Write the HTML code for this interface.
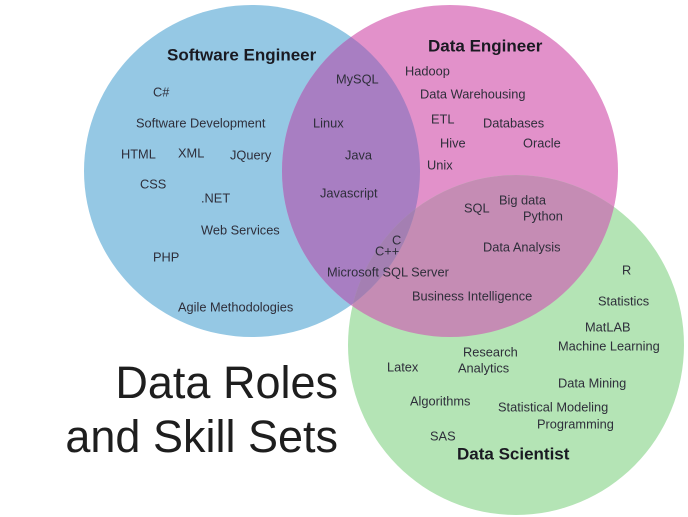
<!DOCTYPE html>
<html><head><meta charset="utf-8"><style>
html,body{margin:0;padding:0;background:#fff;}
svg{display:block;}
text{font-family:"Liberation Sans",sans-serif;fill:#2e2e3a;font-size:12.8px;}
.b{font-weight:bold;font-size:17px;fill:#1a1a22;}
.t{font-size:45px;fill:#1e1e1e;}
</style></head><body>
<svg width="688" height="517" viewBox="0 0 688 517" xmlns="http://www.w3.org/2000/svg">
<defs>
<clipPath id="cb"><ellipse cx="252" cy="171" rx="168" ry="166"/></clipPath>
<clipPath id="cp"><ellipse cx="450" cy="171" rx="168" ry="166"/></clipPath>
</defs>
<ellipse cx="252" cy="171" rx="168" ry="166" fill="#95c8e4"/>
<ellipse cx="450" cy="171" rx="168" ry="166" fill="#e291ca"/>
<ellipse cx="516" cy="345" rx="168" ry="170" fill="#b4e4b5"/>
<ellipse cx="450" cy="171" rx="168" ry="166" fill="#a87ec2" clip-path="url(#cb)"/>
<g clip-path="url(#cp)"><ellipse cx="516" cy="345" rx="168" ry="170" fill="#c58cb4"/></g>
<g clip-path="url(#cb)"><ellipse cx="516" cy="345" rx="168" ry="170" fill="#a4a7c0"/><g clip-path="url(#cp)"><ellipse cx="516" cy="345" rx="168" ry="170" fill="#a47fb2"/></g></g>

<g dominant-baseline="middle">
<text class="b" x="167" y="56">Software Engineer</text>
<text class="b" x="428" y="47">Data Engineer</text>
<text x="153" y="93">C#</text>
<text x="136" y="124">Software Development</text>
<text x="121" y="155">HTML</text>
<text x="178" y="154">XML</text>
<text x="230" y="156">JQuery</text>
<text x="140" y="185">CSS</text>
<text x="201" y="199">.NET</text>
<text x="201" y="231">Web Services</text>
<text x="153" y="258">PHP</text>
<text x="178" y="308">Agile Methodologies</text>
<text x="336" y="80">MySQL</text>
<text x="313" y="124">Linux</text>
<text x="345" y="156">Java</text>
<text x="320" y="194">Javascript</text>
<text x="392" y="241">C</text>
<text x="375" y="252">C++</text>
<text x="327" y="273">Microsoft SQL Server</text>
<text x="412" y="297">Business Intelligence</text>
<text x="405" y="72">Hadoop</text>
<text x="420" y="95">Data Warehousing</text>
<text x="431" y="120">ETL</text>
<text x="483" y="124">Databases</text>
<text x="440" y="144">Hive</text>
<text x="523" y="144">Oracle</text>
<text x="427" y="166">Unix</text>
<text x="464" y="209">SQL</text>
<text x="499" y="201">Big data</text>
<text x="523" y="217">Python</text>
<text x="483" y="248">Data Analysis</text>
<text x="622" y="271">R</text>
<text x="598" y="302">Statistics</text>
<text x="585" y="328">MatLAB</text>
<text x="558" y="347">Machine Learning</text>
<text x="463" y="353">Research</text>
<text x="387" y="368">Latex</text>
<text x="458" y="369">Analytics</text>
<text x="558" y="384">Data Mining</text>
<text x="410" y="402">Algorithms</text>
<text x="498" y="408">Statistical Modeling</text>
<text x="537" y="425">Programming</text>
<text x="430" y="437">SAS</text>
<text class="b" x="457" y="455">Data Scientist</text>
</g>
<text class="t" x="338" y="398" text-anchor="end">Data Roles</text>
<text class="t" x="338" y="452" text-anchor="end">and Skill Sets</text>
</svg>
</body></html>
